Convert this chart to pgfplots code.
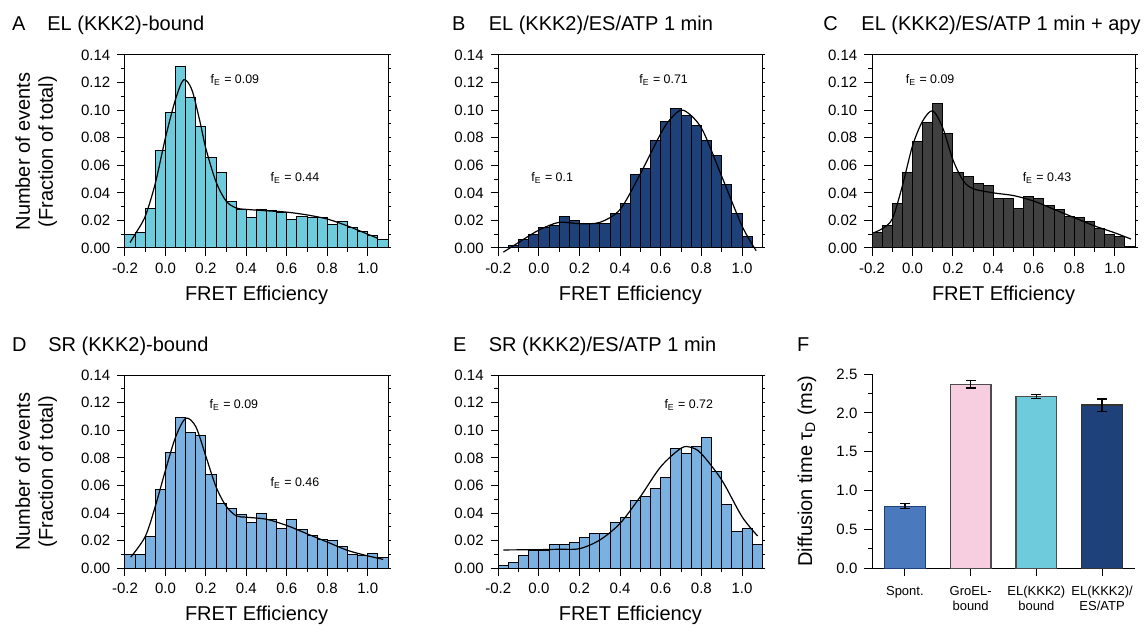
\documentclass[border=0pt]{standalone}
\usepackage{fontspec}
\setmainfont{Liberation Sans}
\usepackage{pgfplots}
\usepackage{pgfplotstable}
\pgfplotsset{compat=1.18}

\definecolor{cyanbar}{HTML}{6DCBDC}
\definecolor{navybar}{HTML}{1F417A}
\definecolor{graybar}{HTML}{404040}
\definecolor{ltblue}{HTML}{7BB1E0}
\definecolor{spont}{HTML}{4A79BD}
\definecolor{pinkbar}{HTML}{F7CDE0}

% histogram bins: left edge, fraction of events per panel
\pgfplotstableread{
x     A     B     C     D     E
-0.20 0.010 0.000 0.011 0.010 0.002
-0.15 0.011 0.002 0.016 0.010 0.004
-0.10 0.029 0.006 0.032 0.023 0.009
-0.05 0.071 0.010 0.055 0.057 0.013
0.00  0.098 0.015 0.077 0.084 0.013
0.05  0.132 0.016 0.091 0.109 0.017
0.10  0.109 0.023 0.105 0.098 0.017
0.15  0.088 0.020 0.083 0.096 0.019
0.20  0.066 0.018 0.055 0.068 0.022
0.25  0.055 0.018 0.052 0.047 0.025
0.30  0.034 0.018 0.047 0.043 0.025
0.35  0.028 0.025 0.045 0.039 0.033
0.40  0.022 0.032 0.036 0.033 0.037
0.45  0.028 0.053 0.036 0.040 0.049
0.50  0.027 0.058 0.029 0.035 0.052
0.55  0.026 0.078 0.037 0.029 0.058
0.60  0.021 0.092 0.036 0.035 0.066
0.65  0.023 0.101 0.031 0.028 0.087
0.70  0.022 0.096 0.028 0.024 0.083
0.75  0.022 0.089 0.023 0.021 0.088
0.80  0.017 0.078 0.022 0.020 0.095
0.85  0.019 0.067 0.019 0.016 0.070
0.90  0.015 0.046 0.014 0.010 0.046
0.95  0.012 0.025 0.010 0.009 0.027
1.00  0.009 0.008 0.008 0.011 0.029
1.05  0.006 0.000 0.001 0.008 0.017
1.10  0     0     0     0     0
}\hist

\tikzset{fe/.style={font=\fontsize{6.2}{7}\selectfont}}

\pgfplotsset{
  hist/.style={
    scale only axis, width=131.5pt, height=96.5pt, anchor=south west,
    xmin=-0.2, xmax=1.1, ymin=0, ymax=0.14,
    xtick={-0.2,0,0.2,0.4,0.6,0.8,1.0},
    minor xtick={-0.1,0.1,0.3,0.5,0.7,0.9},
    ytick={0,0.02,0.04,0.06,0.08,0.1,0.12,0.14},
    minor ytick={0.01,0.03,0.05,0.07,0.09,0.11,0.13},
    xtick pos=left, ytick pos=left, tick align=outside,
    major tick length=3.8pt, minor tick length=2pt,
    tick style={black, line width=0.5pt},
    axis line style={line width=0.5pt},
    scaled ticks=false,
    /pgf/number format/assume math mode=true,
    x tick label style={/pgf/number format/fixed, /pgf/number format/fixed zerofill, /pgf/number format/precision=1},
    y tick label style={/pgf/number format/fixed, /pgf/number format/fixed zerofill, /pgf/number format/precision=2},
    tick label style={font=\fontsize{7.5}{9}\selectfont},
    xlabel={FRET Efficiency},
    xlabel style={font=\fontsize{10}{12}\selectfont, at={(axis description cs:0.5,-0.245)}, anchor=center},
    ylabel style={font=\fontsize{10}{11.5}\selectfont, align=center, at={(axis description cs:-0.338,0.5)}, anchor=center},
    clip=false,
  },
  rt/.style={
    scale only axis, width=131.5pt, height=96.5pt, anchor=south west,
    xmin=-0.2, xmax=1.1, ymin=0, ymax=0.14,
    axis x line*=top, axis y line*=right,
    xtick=\empty, ytick={0,0.01,0.02,0.03,0.04,0.05,0.06,0.07,0.08,0.09,0.1,0.11,0.12,0.13,0.14},
    yticklabels={}, tick align=outside, major tick length=1.5pt,
    tick style={black, line width=0.5pt}, axis line style={line width=0.5pt},
  },
  bars/.style={ybar interval, draw=black, line width=0.5pt},
  fit/.style={smooth, black, line width=0.6pt},
}

\begin{document}
\begin{tikzpicture}

% ---------- A ----------
\begin{axis}[hist, at={(62.5pt,189.5pt)}, ylabel={Number of events\\(Fraction of total)}]
\addplot[bars, fill=cyanbar] table[x=x, y=A] {\hist};
\addplot[fit] coordinates {(-0.175,0.004) (-0.15,0.010) (-0.1,0.023) (-0.05,0.047) (0.0,0.080) (0.05,0.108) (0.09,0.122) (0.13,0.115) (0.17,0.092) (0.2,0.072) (0.25,0.048) (0.3,0.034) (0.35,0.029) (0.4,0.028) (0.5,0.027) (0.6,0.026) (0.7,0.024) (0.8,0.021) (0.9,0.016) (1.0,0.010) (1.05,0.007)};
\node[fe] at (axis cs:0.343,0.122) {f\textsubscript{E} = 0.09};
\node[fe] at (axis cs:0.64,0.0508) {f\textsubscript{E} = 0.44};
\end{axis}
\begin{axis}[rt, at={(62.5pt,189.5pt)}]
\end{axis}

% ---------- B ----------
\begin{axis}[hist, at={(249.15pt,189.5pt)}, width=132pt]
\addplot[bars, fill=navybar] table[x=x, y=B] {\hist};
\addplot[fit] coordinates {(-0.175,-0.003) (-0.1,0.004) (0.0,0.013) (0.1,0.0186) (0.2,0.0176) (0.3,0.0186) (0.4,0.028) (0.5,0.054) (0.6,0.083) (0.65,0.094) (0.71,0.100) (0.8,0.087) (0.9,0.052) (1.0,0.016) (1.07,-0.002)};
\node[fe] at (axis cs:0.614,0.122) {f\textsubscript{E} = 0.71};
\node[fe] at (axis cs:0.065,0.0508) {f\textsubscript{E} = 0.1};
\end{axis}
\begin{axis}[rt, at={(249.15pt,189.5pt)}, width=132pt]
\end{axis}

% ---------- C ----------
\begin{axis}[hist, at={(436pt,189.5pt)}]
\addplot[bars, fill=graybar] table[x=x, y=C] {\hist};
\addplot[fit] coordinates {(-0.193,0.011) (-0.15,0.014) (-0.1,0.021) (-0.05,0.045) (0.0,0.074) (0.05,0.092) (0.1,0.0995) (0.15,0.087) (0.2,0.064) (0.25,0.049) (0.3,0.043) (0.4,0.040) (0.5,0.038) (0.6,0.034) (0.7,0.028) (0.8,0.022) (0.9,0.016) (1.0,0.011) (1.08,0.0065)};
\node[fe] at (axis cs:0.087,0.122) {f\textsubscript{E} = 0.09};
\node[fe] at (axis cs:0.665,0.0508) {f\textsubscript{E} = 0.43};
\end{axis}
\begin{axis}[rt, at={(436pt,189.5pt)}]
\end{axis}

% ---------- D ----------
\begin{axis}[hist, at={(62.5pt,29.35pt)}, height=96.65pt, ylabel={Number of events\\(Fraction of total)}]
\addplot[bars, fill=ltblue] table[x=x, y=D] {\hist};
\addplot[fit] coordinates {(-0.172,0.008) (-0.1,0.023) (-0.05,0.045) (0.0,0.071) (0.05,0.095) (0.1,0.1086) (0.15,0.1026) (0.2,0.081) (0.25,0.059) (0.3,0.045) (0.35,0.038) (0.4,0.037) (0.5,0.0355) (0.6,0.031) (0.7,0.025) (0.8,0.019) (0.9,0.013) (1.0,0.009) (1.076,0.0065)};
\node[fe] at (axis cs:0.338,0.118) {f\textsubscript{E} = 0.09};
\node[fe] at (axis cs:0.64,0.062) {f\textsubscript{E} = 0.46};
\end{axis}
\begin{axis}[rt, at={(62.5pt,29.35pt)}, height=96.65pt]
\end{axis}

% ---------- E ----------
\begin{axis}[hist, at={(249.15pt,29.35pt)}, width=132pt, height=96.65pt]
\addplot[bars, fill=ltblue] table[x=x, y=E] {\hist};
\addplot[fit] coordinates {(-0.175,0.0133) (0.0,0.0135) (0.1,0.0138) (0.2,0.0142) (0.3,0.0205) (0.4,0.0326) (0.5,0.052) (0.6,0.0736) (0.7,0.087) (0.75,0.0876) (0.8,0.083) (0.9,0.064) (1.0,0.0374) (1.077,0.0234)};
\node[fe] at (axis cs:0.738,0.118) {f\textsubscript{E} = 0.72};
\end{axis}
\begin{axis}[rt, at={(249.15pt,29.35pt)}, width=132pt, height=96.65pt]
\end{axis}

% ---------- F ----------
\begin{axis}[scale only axis, width=131.5pt, height=97.15pt, at={(436pt,29.35pt)}, anchor=south west,
  xmin=-0.5, xmax=3.5, ymin=0, ymax=2.5,
  axis x line*=bottom, axis y line*=left,
  xtick={0,1,2,3},
  xticklabels={Spont., GroEL-\\bound, EL(KKK2)\\bound, EL(KKK2)/\\ES/ATP},
  x tick label style={align=center, font=\fontsize{6.5}{7.5}\selectfont, yshift=-1.5pt},
  ytick={0,0.5,1,1.5,2,2.5}, minor ytick={0.25,0.75,1.25,1.75,2.25},
  tick align=outside, major tick length=3.8pt, minor tick length=2pt,
  tick style={black, line width=0.5pt}, axis line style={line width=0.5pt},
  /pgf/number format/assume math mode=true,
  y tick label style={font=\fontsize{7.5}{9}\selectfont, /pgf/number format/fixed, /pgf/number format/fixed zerofill, /pgf/number format/precision=1},
  ylabel={Diffusion time τ\textsubscript{D} (ms)},
  ylabel style={font=\fontsize{10}{12}\selectfont, at={(axis description cs:-0.247,0.5)}, anchor=center},
  error bars/y dir=both, error bars/y explicit,
  error bars/error bar style={black, line width=0.7pt},
  error bars/error mark options={black, rotate=90, mark size=2.5pt, line width=0.7pt},
]
\addplot[ybar, bar width=20.3pt, bar shift=0pt, fill=spont, draw=navybar, line width=0.6pt] coordinates {(0,0.80) +- (0,0.03)};
\addplot[ybar, bar width=20.3pt, bar shift=0pt, fill=pinkbar, draw=black!70, line width=0.6pt] coordinates {(1,2.37) +- (0,0.05)};
\addplot[ybar, bar width=20.3pt, bar shift=0pt, fill=cyanbar, draw=black!70, line width=0.6pt] coordinates {(2,2.21) +- (0,0.025)};
\addplot[ybar, bar width=20.3pt, bar shift=0pt, fill=navybar, draw=black!80, line width=0.6pt] coordinates {(3,2.10) +- (0,0.08)};
\end{axis}

% ---------- panel titles ----------
\begin{scope}[every node/.style={inner sep=0pt, anchor=base west, font=\fontsize{10}{12}\selectfont}]
\node at (5.85pt,298pt) {A};   \node at (23.5pt,298pt) {EL (KKK2)-bound};
\node at (225.8pt,298pt) {B};  \node at (244.2pt,298pt) {EL (KKK2)/ES/ATP 1 min};
\node at (411.5pt,298pt) {C};  \node at (430.5pt,298pt) {EL (KKK2)/ES/ATP 1 min + apy};
\node at (5.85pt,138pt) {D};   \node at (24pt,138pt) {SR (KKK2)-bound};
\node at (226.3pt,138pt) {E};  \node at (244.2pt,138pt) {SR (KKK2)/ES/ATP 1 min};
\node at (398.3pt,138pt) {F};
\end{scope}

\pgfresetboundingbox
\path[use as bounding box] (0,0) rectangle (572.5pt,313.5pt);
\end{tikzpicture}
\end{document}
